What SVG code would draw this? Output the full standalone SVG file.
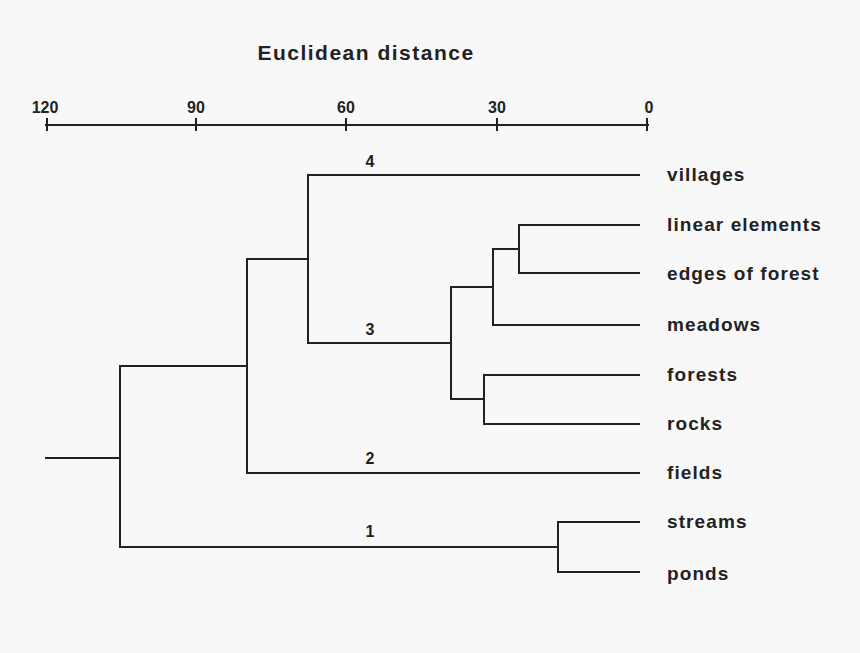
<svg xmlns="http://www.w3.org/2000/svg" width="860" height="653" viewBox="0 0 860 653">
<style>
text{font-family:"Liberation Sans",Arial,sans-serif;font-weight:bold;fill:#222}
.l{font-size:19px;letter-spacing:1.1px}
.n{font-size:16px;text-anchor:middle}
.c path,.ax path{fill:none;stroke:#222;stroke-width:2}
</style>
<rect width="860" height="653" fill="#f8f8f8"/>
<text x="366" y="60" font-size="21" letter-spacing="1.5" text-anchor="middle">Euclidean distance</text>
<g class="ax" id="axis">
<path d="M45 125H649M47 118V131M196 118V131M346 118V131M497 118V131M647 118V131"/>
<text class="n" x="45" y="113">120</text>
<text class="n" x="196" y="113">90</text>
<text class="n" x="346" y="113">60</text>
<text class="n" x="497" y="113">30</text>
<text class="n" x="649" y="113">0</text>
</g>
<g class="c" id="connectors">
<path d="M640 175H308V343H451"/>
<path d="M640 225H519V273H640"/>
<path d="M519 249H493V325H640"/>
<path d="M493 287H451V399H484"/>
<path d="M640 375H484V424H640"/>
<path d="M308 259H247V473H640"/>
<path d="M247 366H120V547H558"/>
<path d="M640 522H558V572H640"/>
<path d="M45 458H120"/>
</g>
<g id="leaves" class="l">
<text x="667" y="181">villages</text>
<text x="667" y="231">linear elements</text>
<text x="667" y="280">edges of forest</text>
<text x="667" y="331">meadows</text>
<text x="667" y="381">forests</text>
<text x="667" y="430">rocks</text>
<text x="667" y="479">fields</text>
<text x="667" y="528">streams</text>
<text x="667" y="580">ponds</text>
</g>
<g id="clusters">
<text class="n" x="370" y="167">4</text>
<text class="n" x="370" y="335">3</text>
<text class="n" x="370" y="464">2</text>
<text class="n" x="370" y="537">1</text>
</g>
</svg>
